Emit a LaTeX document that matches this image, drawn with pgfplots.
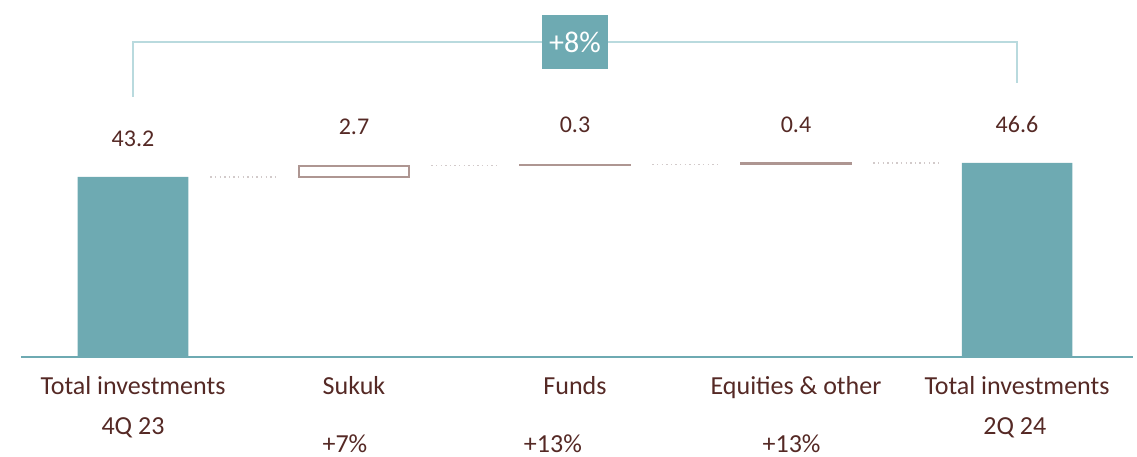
\documentclass[border=0pt]{standalone}
\usepackage{fontspec}
\setmainfont{Carlito}
\usepackage{pgfplots}
\pgfplotsset{compat=1.18}
\definecolor{tealbar}{HTML}{6EAAB2}
\definecolor{bracket}{HTML}{B9DADE}
\definecolor{brownbar}{HTML}{AE9692}
\definecolor{txt}{HTML}{552925}
\definecolor{dots}{HTML}{D2CACA}
\pgfplotsset{base/.style={
  width=568.5pt, height=228.5pt, scale only axis,
  xmin=-0.6018, xmax=4.5430, ymin=-24, ymax=85.68,
  axis lines=none, ticks=none, clip=false}}
\begin{document}
\begin{tikzpicture}
\begin{axis}[base, ybar stacked, bar width=0.5]
% invisible offsets
\addplot[draw=none, fill=none] coordinates {(0,0) (1,43.2) (2,45.9) (3,46.2) (4,0)};
% Sukuk (outlined)
\addplot[draw=brownbar, fill=white, line width=0.9pt] coordinates {(0,0) (1,2.7) (2,0) (3,0) (4,0)};
% Funds, Equities
\addplot[draw=brownbar, fill=brownbar, line width=0.7pt] coordinates {(0,0) (1,0) (2,0.3) (3,0.4) (4,0)};
% Totals
\addplot[draw=none, fill=tealbar] coordinates {(0,43.2) (1,0) (2,0) (3,0) (4,46.6)};
\end{axis}
\begin{axis}[base]
\path (rel axis cs:0,0) rectangle (rel axis cs:1,1);
% baseline
\addplot[tealbar, line width=0.9pt, mark=none] coordinates {(-0.507,0) (4.525,0)};
% connectors
\addplot[dots, line width=0.7pt, dash pattern=on 0.7pt off 1.6pt, mark=none] coordinates {(0.35,43.2) (0.65,43.2)};
\addplot[dots, line width=0.7pt, dash pattern=on 0.7pt off 1.6pt, mark=none] coordinates {(1.35,45.9) (1.65,45.9)};
\addplot[dots, line width=0.7pt, dash pattern=on 0.7pt off 1.6pt, mark=none] coordinates {(2.35,46.2) (2.65,46.2)};
\addplot[dots, line width=0.7pt, dash pattern=on 0.7pt off 1.6pt, mark=none] coordinates {(3.35,46.6) (3.65,46.6)};
% bracket
\addplot[bracket, line width=1pt, mark=none] coordinates {(0,62.4) (0,75.6) (4,75.6) (4,65.76)};
\node[fill=tealbar, text=white, minimum width=33pt, minimum height=27pt, inner sep=0pt,
      font=\fontsize{15}{17}\selectfont] at (axis cs:2,75.6) {+8\%};
% value labels
\begin{scope}[every node/.style={text=txt, anchor=base, inner sep=0pt, font=\fontsize{12}{14}\selectfont}]
\node at (axis cs:0,50.4) {43.2};
\node at (axis cs:1,53.28) {2.7};
\node at (axis cs:2,53.76) {0.3};
\node at (axis cs:3,53.76) {0.4};
\node at (axis cs:4,53.76) {46.6};
\end{scope}
% category labels
\begin{scope}[every node/.style={text=txt, anchor=base, inner sep=0pt, font=\fontsize{13}{15}\selectfont}]
\node at (axis cs:0,-9.12) {Total investments};
\node at (axis cs:1,-9.12) {Sukuk};
\node at (axis cs:2,-9.12) {Funds};
\node at (axis cs:3,-9.12) {Equities \& other};
\node at (axis cs:4,-9.12) {Total investments};
\node at (axis cs:0,-18.72) {4Q 23};
\node at (axis cs:3.99,-18.72) {2Q 24};
\node at (axis cs:0.959,-23.04) {+7\%};
\node at (axis cs:1.90,-23.04) {+13\%};
\node at (axis cs:2.98,-23.04) {+13\%};
\end{scope}
\end{axis}
\end{tikzpicture}
\end{document}
